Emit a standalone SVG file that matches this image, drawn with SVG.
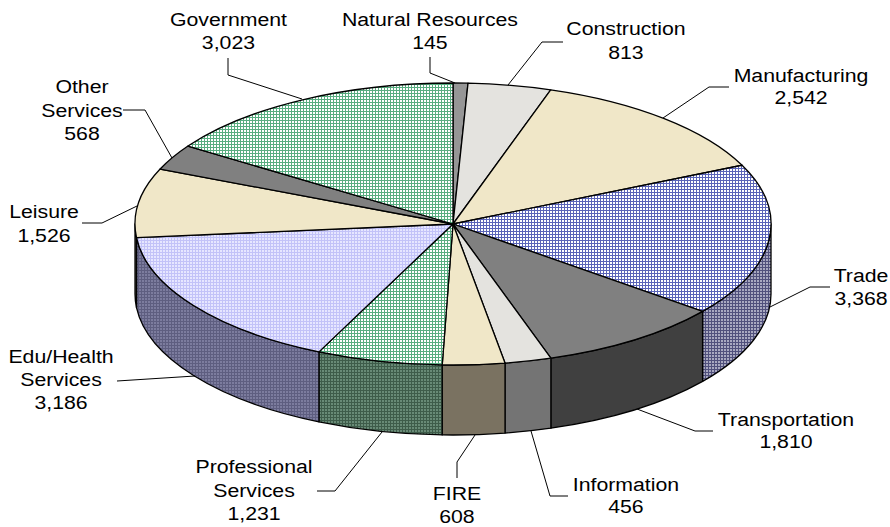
<svg xmlns="http://www.w3.org/2000/svg" width="890" height="527" viewBox="0 0 890 527">
<style>
.s{stroke:#000;stroke-width:1.3;stroke-linejoin:round}
.c{fill:none;stroke:#000;stroke-width:1}
text{font-family:"Liberation Sans",Arial,sans-serif;font-size:19px;fill:#000;text-anchor:middle}
</style>
<defs>
<pattern id="pTrade" width="3" height="3" patternUnits="userSpaceOnUse"><rect width="3" height="3" fill="#fff"/><rect width="3" height="1" fill="#5a64b8"/><rect width="1" height="3" fill="#5a64b8"/></pattern>
<pattern id="pGreen" width="3" height="3" patternUnits="userSpaceOnUse"><rect width="3" height="3" fill="#fff"/><rect width="3" height="1" fill="#58ad80"/><rect width="1" height="3" fill="#58ad80"/></pattern>
<pattern id="pEdu" width="3" height="3" patternUnits="userSpaceOnUse"><rect width="3" height="3" fill="#e6e6ff"/><rect width="3" height="1" fill="#c2c2f8"/><rect width="1" height="3" fill="#c2c2f8"/></pattern>
<pattern id="pTradeS" width="3" height="3" patternUnits="userSpaceOnUse"><rect width="3" height="3" fill="#a8a8c0"/><rect width="3" height="1" fill="#50507c"/><rect width="1" height="3" fill="#50507c"/></pattern>
<pattern id="pEduS" width="3" height="3" patternUnits="userSpaceOnUse"><rect width="3" height="3" fill="#7c7c9e"/><rect width="3" height="1" fill="#5e5e80"/><rect width="1" height="3" fill="#5e5e80"/></pattern>
<pattern id="pProfS" width="3" height="3" patternUnits="userSpaceOnUse"><rect width="3" height="3" fill="#688a76"/><rect width="3" height="1" fill="#3e5c4a"/><rect width="1" height="3" fill="#3e5c4a"/></pattern>
</defs>
<rect width="890" height="527" fill="#fff"/>

<g id="natural-resources">
<path class="s" fill="#969696" d="M453,224 L453,83 A318,141 0 0 1 468.03,83.16 Z"/>
<text transform="scale(1.12 1)" x="383.9" y="26">Natural Resources</text>
<text transform="scale(1.12 1)" x="383.9" y="49">145</text>
</g>
<g id="construction">
<path class="s" fill="#e4e3df" d="M453,224 L468.03,83.16 A318,141 0 0 1 550.7,89.82 Z"/>
<text transform="scale(1.12 1)" x="558.9" y="35">Construction</text>
<text transform="scale(1.12 1)" x="558.9" y="59">813</text>
</g>
<g id="manufacturing">
<path class="s" fill="#f0e7c8" d="M453,224 L550.7,89.82 A318,141 0 0 1 742.07,165.25 Z"/>
<text transform="scale(1.12 1)" x="715.2" y="82">Manufacturing</text>
<text transform="scale(1.12 1)" x="715.2" y="104">2,542</text>
</g>
<g id="trade">
<path class="s" fill="url(#pTradeS)" d="M771,224 A318,141 0 0 1 702.6,311.37 L702.6,381.37 A318,141 0 0 0 771,294 Z"/>
<path class="s" fill="url(#pTrade)" d="M453,224 L742.07,165.25 A318,141 0 0 1 702.6,311.37 Z"/>
<text transform="scale(1.12 1)" x="768.8" y="282">Trade</text>
<text transform="scale(1.12 1)" x="768.8" y="305">3,368</text>
</g>
<g id="transportation">
<path class="s" fill="#404040" d="M702.6,311.37 A318,141 0 0 1 550.88,358.15 L550.88,428.15 A318,141 0 0 0 702.6,381.37 Z"/>
<path class="s" fill="#808080" d="M453,224 L702.6,311.37 A318,141 0 0 1 550.88,358.15 Z"/>
<text transform="scale(1.12 1)" x="701.8" y="426">Transportation</text>
<text transform="scale(1.12 1)" x="701.8" y="448">1,810</text>
</g>
<g id="information">
<path class="s" fill="#747474" d="M550.88,358.15 A318,141 0 0 1 505.01,363.1 L505.01,433.1 A318,141 0 0 0 550.88,428.15 Z"/>
<path class="s" fill="#e4e3df" d="M453,224 L550.88,358.15 A318,141 0 0 1 505.01,363.1 Z"/>
<text transform="scale(1.12 1)" x="558.9" y="491">Information</text>
<text transform="scale(1.12 1)" x="558.9" y="513">456</text>
</g>
<g id="fire">
<path class="s" fill="#7a7261" d="M505.01,363.1 A318,141 0 0 1 442.22,364.92 L442.22,434.92 A318,141 0 0 0 505.01,433.1 Z"/>
<path class="s" fill="#f0e7c8" d="M453,224 L505.01,363.1 A318,141 0 0 1 442.22,364.92 Z"/>
<text transform="scale(1.12 1)" x="408" y="500">FIRE</text>
<text transform="scale(1.12 1)" x="408" y="523">608</text>
</g>
<g id="professional-services">
<path class="s" fill="url(#pProfS)" d="M442.22,364.92 A318,141 0 0 1 318.94,351.86 L318.94,421.86 A318,141 0 0 0 442.22,434.92 Z"/>
<path class="s" fill="url(#pGreen)" d="M453,224 L442.22,364.92 A318,141 0 0 1 318.94,351.86 Z"/>
<text transform="scale(1.12 1)" x="226.8" y="473">Professional</text>
<text transform="scale(1.12 1)" x="226.8" y="497">Services</text>
<text transform="scale(1.12 1)" x="226.8" y="520">1,231</text>
</g>
<g id="edu-health-services">
<path class="s" fill="url(#pEduS)" d="M318.94,351.86 A318,141 0 0 1 136.5,237.68 L136.5,307.68 A318,141 0 0 0 318.94,421.86 Z"/>
<path class="s" fill="url(#pEdu)" d="M453,224 L318.94,351.86 A318,141 0 0 1 136.5,237.68 Z"/>
<text transform="scale(1.12 1)" x="54.5" y="363">Edu/Health</text>
<text transform="scale(1.12 1)" x="54.5" y="386">Services</text>
<text transform="scale(1.12 1)" x="54.5" y="409">3,186</text>
</g>
<g id="leisure">
<path class="s" fill="#7a7462" d="M136.5,237.68 A318,141 0 0 1 135,224 L135,294 A318,141 0 0 0 136.5,307.68 Z"/>
<path class="s" fill="#f0e7c8" d="M453,224 L136.5,237.68 A318,141 0 0 1 160.12,169.06 Z"/>
<text transform="scale(1.12 1)" x="39.3" y="218">Leisure</text>
<text transform="scale(1.12 1)" x="39.3" y="242">1,526</text>
</g>
<g id="other-services">
<path class="s" fill="#808080" d="M453,224 L160.12,169.06 A318,141 0 0 1 187.96,146.08 Z"/>
<text transform="scale(1.12 1)" x="73.2" y="93">Other</text>
<text transform="scale(1.12 1)" x="73.2" y="117">Services</text>
<text transform="scale(1.12 1)" x="73.2" y="140">568</text>
</g>
<g id="government">
<path class="s" fill="url(#pGreen)" d="M453,224 L187.96,146.08 A318,141 0 0 1 453,83 Z"/>
<text transform="scale(1.12 1)" x="204" y="26">Government</text>
<text transform="scale(1.12 1)" x="204" y="49">3,023</text>
</g>

<g id="connectors">
<polyline class="c" points="228,58 228,75 302,99"/>
<polyline class="c" points="430,57 430,73 455,83"/>
<polyline class="c" points="563,42 542,42 508,85"/>
<polyline class="c" points="729,87 709,87 663,118"/>
<polyline class="c" points="830,287 810,287 770,307"/>
<polyline class="c" points="713,431 695,431 637,409"/>
<polyline class="c" points="568,496 550,496 531,431"/>
<polyline class="c" points="457,478 457,462 475,435"/>
<polyline class="c" points="317,491 335,491 382,432"/>
<polyline class="c" points="117,381 195,376"/>
<polyline class="c" points="82,223 102,223 137,206"/>
<polyline class="c" points="123,110 145,110 172,158"/>
</g>
</svg>
